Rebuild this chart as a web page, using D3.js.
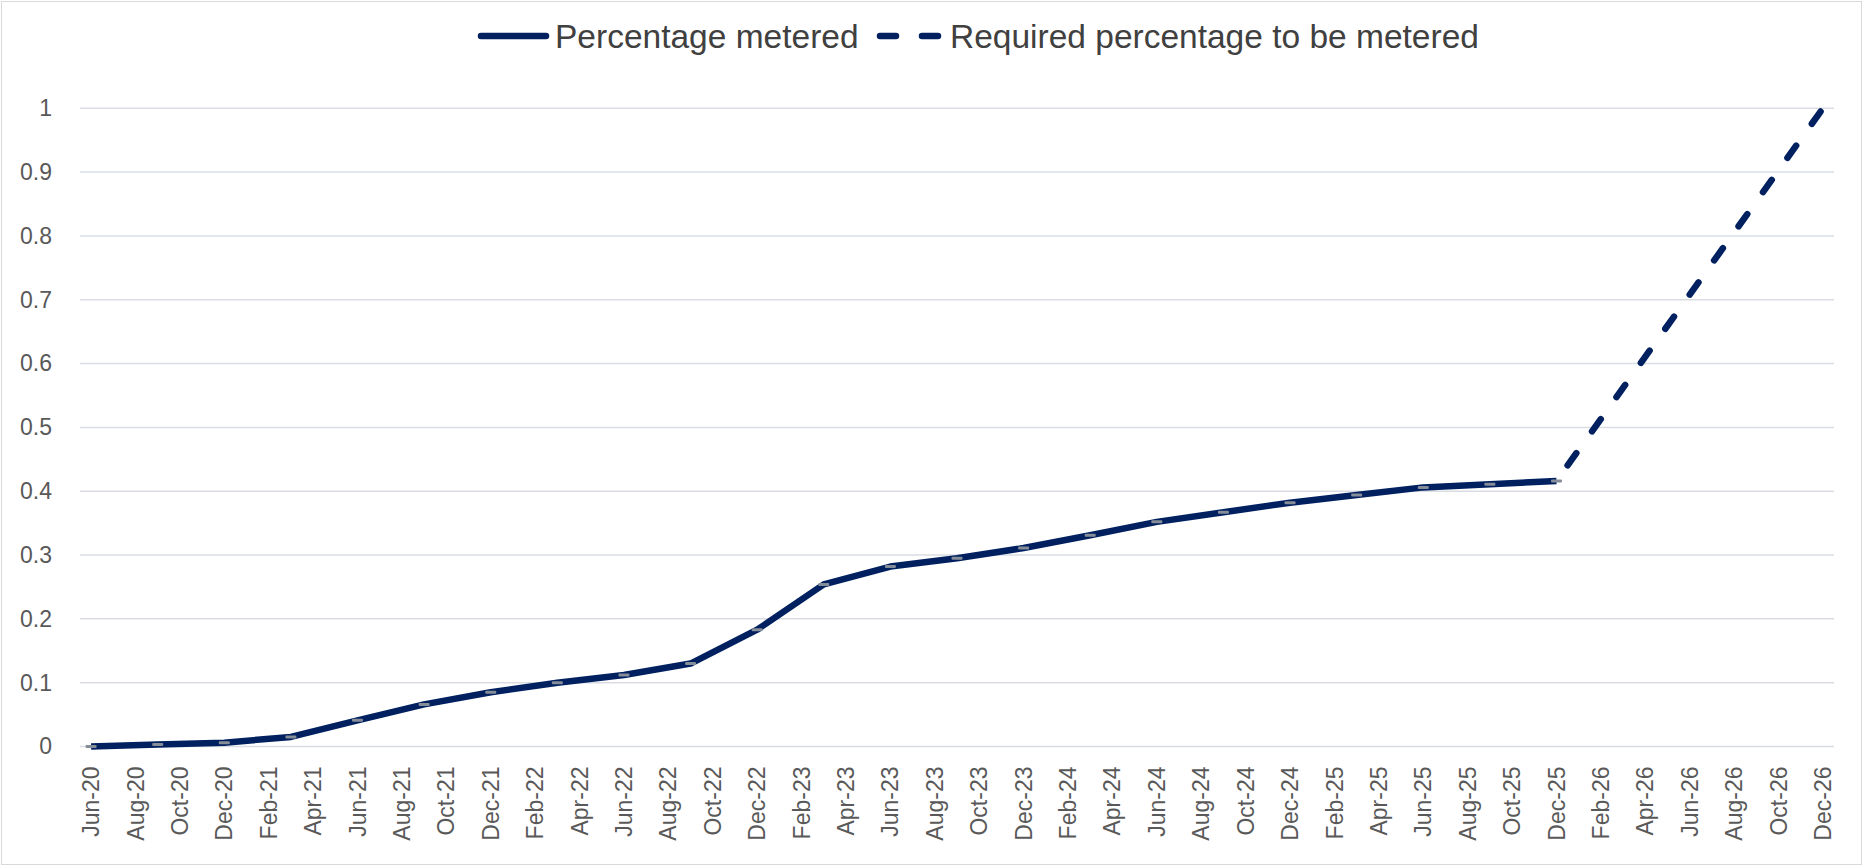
<!DOCTYPE html>
<html>
<head>
<meta charset="utf-8">
<script src="https://cdn.jsdelivr.net/npm/d3@7/dist/d3.min.js"></script>
<style>
  body { margin: 0; background: #fff; }
  text { font-family: "Liberation Sans", Arial, sans-serif; }
</style>
</head>
<body>
<svg id="chart"></svg>
<script>
var W = 1863, H = 866;

// quarterly readings of the metered share
var meteredDates = ["Jun-20", "Sep-20", "Dec-20", "Mar-21", "Jun-21", "Sep-21", "Dec-21", "Mar-22",
                    "Jun-22", "Sep-22", "Dec-22", "Mar-23", "Jun-23", "Sep-23", "Dec-23", "Mar-24",
                    "Jun-24", "Sep-24", "Dec-24", "Mar-25", "Jun-25", "Sep-25", "Dec-25"];
var meteredValues = [0, 0.003, 0.006, 0.015, 0.041, 0.066, 0.085, 0.100,
                     0.112, 0.130, 0.183, 0.254, 0.282, 0.295, 0.311, 0.331,
                     0.352, 0.367, 0.382, 0.394, 0.406, 0.411, 0.416];
// required trajectory
var requiredDates = ["Dec-25", "Dec-26"];
var requiredValues = [0.416, 1.0];

var yTicks = [0, 0.1, 0.2, 0.3, 0.4, 0.5, 0.6, 0.7, 0.8, 0.9, 1];
var seriesNames = ["Percentage metered", "Required percentage to be metered"];

var fmt = d3.timeFormat("%b-%y");
var months = d3.timeMonth.range(new Date(2020, 5, 1), new Date(2027, 0, 1)).map(fmt);
var tickLabels = months.filter(function (d, i) { return i % 2 == 0; });

var navy = "#002060";

var svg = d3.select("#chart").attr("width", W).attr("height", H);

svg.append("rect")
  .attr("x", 1.5).attr("y", 1.5)
  .attr("width", W - 3).attr("height", H - 3)
  .attr("fill", "#fff")
  .attr("stroke", "#d9d9d9");

var x = d3.scaleBand().domain(months).range([80, 1834]);
var y = d3.scaleLinear().domain([0, 1]).range([746.5, 108.3]);
var cx = function (m) { return x(m) + x.bandwidth() / 2; };

//gridlines
svg.append("g").selectAll("line")
  .data(yTicks).enter().append("line")
  .attr("x1", 80).attr("x2", 1834)
  .attr("y1", function (d) { return y(d); })
  .attr("y2", function (d) { return y(d); })
  .attr("stroke", "#d9dde3")
  .attr("stroke-width", 1.5);

// y axis labels
var yAxis = svg.append("g")
  .attr("transform", "translate(80,0)")
  .call(d3.axisLeft(y).tickValues(yTicks).tickSize(0).tickPadding(28).tickFormat(d3.format("~g")));
yAxis.select(".domain").remove();
yAxis.selectAll("text")
  .attr("fill", "#595959")
  .style("font-size", "23px")
  .style("font-family", "Liberation Sans, Arial, sans-serif");

// x axis labels
var xAxis = svg.append("g")
  .attr("transform", "translate(0,746.5)")
  .call(d3.axisBottom(x).tickValues(tickLabels).tickSize(0));
xAxis.select(".domain").remove();
xAxis.selectAll("text")
  .attr("fill", "#595959")
  .style("font-size", "23px")
  .style("font-family", "Liberation Sans, Arial, sans-serif")
  .attr("text-anchor", "end")
  .attr("transform", "rotate(-90)")
  .attr("x", -20)
  .attr("y", 0)
  .attr("dy", "0.35em");

var line = d3.line()
  .x(function (d) { return cx(d[0]); })
  .y(function (d) { return y(d[1]); });

var metered = d3.zip(meteredDates, meteredValues);
var required = d3.zip(requiredDates, requiredValues);

// drawn from the top end so a dash finishes at 100%
svg.append("path")
  .datum(required.slice().reverse())
  .attr("d", line)
  .attr("fill", "none")
  .attr("stroke", navy)
  .attr("stroke-width", 6.5)
  .attr("stroke-linecap", "round")
  .attr("stroke-dasharray", "15,27")
  .attr("stroke-dashoffset", 38);

svg.append("path")
  .datum(metered)
  .attr("d", line)
  .attr("fill", "none")
  .attr("stroke", navy)
  .attr("stroke-width", 6.5)
  .attr("stroke-linejoin", "round");

// small dash markers
svg.append("g").selectAll("rect")
  .data(metered).enter().append("rect")
  .attr("x", function (d) { return cx(d[0]) - 5.5; })
  .attr("y", function (d) { return y(d[1]) - 1.5; })
  .attr("width", 11).attr("height", 3)
  .attr("rx", 1)
  .attr("fill", "#858d98");

// legend
var lg = svg.append("g");
lg.append("line")
  .attr("x1", 481).attr("x2", 546).attr("y1", 36).attr("y2", 36)
  .attr("stroke", navy).attr("stroke-width", 6.5).attr("stroke-linecap", "round");
lg.append("text")
  .attr("x", 555).attr("y", 36).attr("dy", "0.35em")
  .attr("fill", "#404040")
  .style("font-size", "33.5px")
  .text(seriesNames[0]);
lg.append("line")
  .attr("x1", 880).attr("x2", 940).attr("y1", 36).attr("y2", 36)
  .attr("stroke", navy).attr("stroke-width", 6.5).attr("stroke-linecap", "round")
  .attr("stroke-dasharray", "16,26");
lg.append("text")
  .attr("x", 950).attr("y", 36).attr("dy", "0.35em")
  .attr("fill", "#404040")
  .style("font-size", "33.5px")
  .text(seriesNames[1]);
</script>
</body>
</html>
